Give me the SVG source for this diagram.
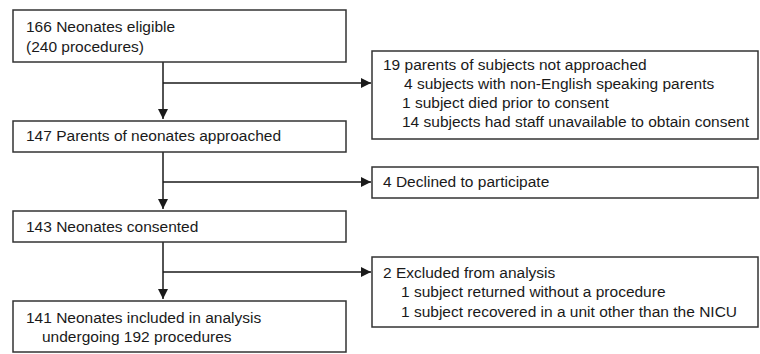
<svg xmlns="http://www.w3.org/2000/svg" width="760" height="354" viewBox="0 0 760 354">
<defs>
<marker id="ah" viewBox="0 0 10 10" refX="10" refY="5" markerWidth="10" markerHeight="10" markerUnits="userSpaceOnUse" orient="auto">
<path d="M0,0 L10,5 L0,10 Z" fill="#1a1a1a"/>
</marker>
<style>
rect{fill:#fff;stroke:#333;stroke-width:1.5}
text{font-family:"Liberation Sans",Arial,sans-serif;font-size:15.5px;fill:#1a1a1a}
.c{stroke:#1a1a1a;stroke-width:1.5;fill:none}
</style>
</defs>
<rect x="0" y="0" width="760" height="354" style="fill:#fff;stroke:none"/>
<g id="connectors">
<line class="c" x1="163" y1="62" x2="163" y2="119" marker-end="url(#ah)"/>
<line class="c" x1="163" y1="83" x2="371" y2="83" marker-end="url(#ah)"/>
<line class="c" x1="163" y1="152" x2="163" y2="209" marker-end="url(#ah)"/>
<line class="c" x1="163" y1="182" x2="371" y2="182" marker-end="url(#ah)"/>
<line class="c" x1="163" y1="242" x2="163" y2="299" marker-end="url(#ah)"/>
<line class="c" x1="163" y1="272" x2="371" y2="272" marker-end="url(#ah)"/>
</g>
<g id="eligible">
<rect x="13" y="10" width="333" height="52"/>
<text x="26" y="32">166 Neonates eligible</text>
<text x="26" y="52">(240 procedures)</text>
</g>
<g id="approached">
<rect x="13" y="121" width="333" height="31"/>
<text x="26" y="141">147 Parents of neonates approached</text>
</g>
<g id="consented">
<rect x="13" y="211" width="333" height="31"/>
<text x="26" y="232">143 Neonates consented</text>
</g>
<g id="included">
<rect x="13" y="301" width="333" height="51"/>
<text x="26" y="323">141 Neonates included in analysis</text>
<text x="42" y="342">undergoing 192 procedures</text>
</g>
<g id="not-approached">
<rect x="372" y="51" width="386" height="88"/>
<text x="383" y="70">19 parents of subjects not approached</text>
<text x="404" y="89">4 subjects with non-English speaking parents</text>
<text x="402" y="108">1 subject died prior to consent</text>
<text x="402" y="127">14 subjects had staff unavailable to obtain consent</text>
</g>
<g id="declined">
<rect x="372" y="167" width="386" height="31"/>
<text x="383" y="187">4 Declined to participate</text>
</g>
<g id="excluded">
<rect x="372" y="257" width="386" height="70"/>
<text x="383" y="278">2 Excluded from analysis</text>
<text x="401" y="297">1 subject returned without a procedure</text>
<text x="401" y="317">1 subject recovered in a unit other than the NICU</text>
</g>
</svg>
